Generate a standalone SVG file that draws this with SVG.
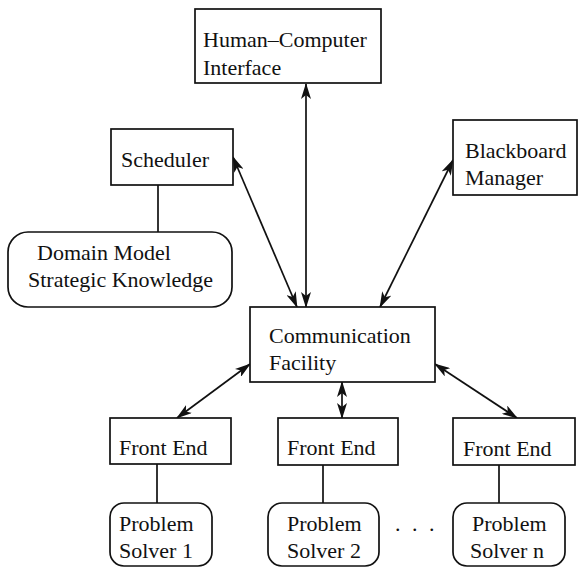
<svg xmlns="http://www.w3.org/2000/svg" width="579" height="568" viewBox="0 0 579 568">
<style>
.box{fill:#fff;stroke:#111;stroke-width:1.7}
.t{font-family:"Liberation Serif","Times New Roman",serif;font-size:22px;fill:#111}
.ln{stroke:#111;stroke-width:1.7;fill:none}
.ar{stroke:#111;stroke-width:1.7;fill:none;marker-start:url(#ah);marker-end:url(#ah)}
</style>
<defs>
<marker id="ah" viewBox="0 0 16 10" refX="15" refY="5" markerWidth="16" markerHeight="10" markerUnits="userSpaceOnUse" orient="auto-start-reverse">
<path d="M0,0 L16,5 L0,10 L4,5 z" fill="#111"/>
</marker>
</defs>
<rect width="579" height="568" fill="#fff"/>
<g id="connectors">
<line class="ar" x1="306" y1="84" x2="306" y2="307"/>
<line class="ar" x1="233" y1="157" x2="297" y2="307"/>
<line class="ar" x1="453" y1="160" x2="380" y2="307"/>
<line class="ar" x1="250" y1="364" x2="177" y2="418"/>
<line class="ar" x1="342" y1="382" x2="342" y2="418"/>
<line class="ar" x1="435" y1="364" x2="517" y2="418"/>
<line class="ln" x1="158" y1="185" x2="158" y2="232"/>
<line class="ln" x1="157" y1="464" x2="157" y2="503"/>
<line class="ln" x1="323" y1="465" x2="323" y2="503"/>
<line class="ln" x1="499" y1="465" x2="499" y2="503"/>
</g>
<g id="hci">
<rect class="box" x="195" y="9" width="186" height="74"/>
<text class="t" x="203" y="47">Human–Computer</text>
<text class="t" x="203" y="75">Interface</text>
</g>
<g id="scheduler">
<rect class="box" x="111" y="129" width="122" height="56"/>
<text class="t" x="121" y="167">Scheduler</text>
</g>
<g id="domain">
<rect class="box" x="8" y="232" width="224" height="75" rx="20" ry="20"/>
<text class="t" x="37" y="260">Domain Model</text>
<text class="t" x="28" y="287">Strategic Knowledge</text>
</g>
<g id="blackboard">
<rect class="box" x="453" y="120" width="124" height="75"/>
<text class="t" x="465" y="158">Blackboard</text>
<text class="t" x="465" y="185">Manager</text>
</g>
<g id="comm">
<rect class="box" x="250" y="307" width="185" height="75"/>
<text class="t" x="269" y="343">Communication</text>
<text class="t" x="269" y="370">Facility</text>
</g>
<g id="fe1">
<rect class="box" x="110" y="418" width="121" height="46"/>
<text class="t" x="119" y="455">Front End</text>
</g>
<g id="fe2">
<rect class="box" x="278" y="418" width="120" height="47"/>
<text class="t" x="287" y="455">Front End</text>
</g>
<g id="fen">
<rect class="box" x="453" y="418" width="122" height="47"/>
<text class="t" x="463" y="456">Front End</text>
</g>
<g id="ps1">
<rect class="box" x="110" y="503" width="102" height="63" rx="14" ry="14"/>
<text class="t" x="119" y="531">Problem</text>
<text class="t" x="119" y="558">Solver 1</text>
</g>
<g id="ps2">
<rect class="box" x="268" y="503" width="111" height="63" rx="14" ry="14"/>
<text class="t" x="287" y="531">Problem</text>
<text class="t" x="287" y="558">Solver 2</text>
</g>
<g id="psn">
<rect class="box" x="453" y="503" width="112" height="63" rx="14" ry="14"/>
<text class="t" x="472" y="531">Problem</text>
<text class="t" x="470" y="558">Solver n</text>
</g>
<text class="t" x="395" y="531" letter-spacing="11.5">...</text>
</svg>
